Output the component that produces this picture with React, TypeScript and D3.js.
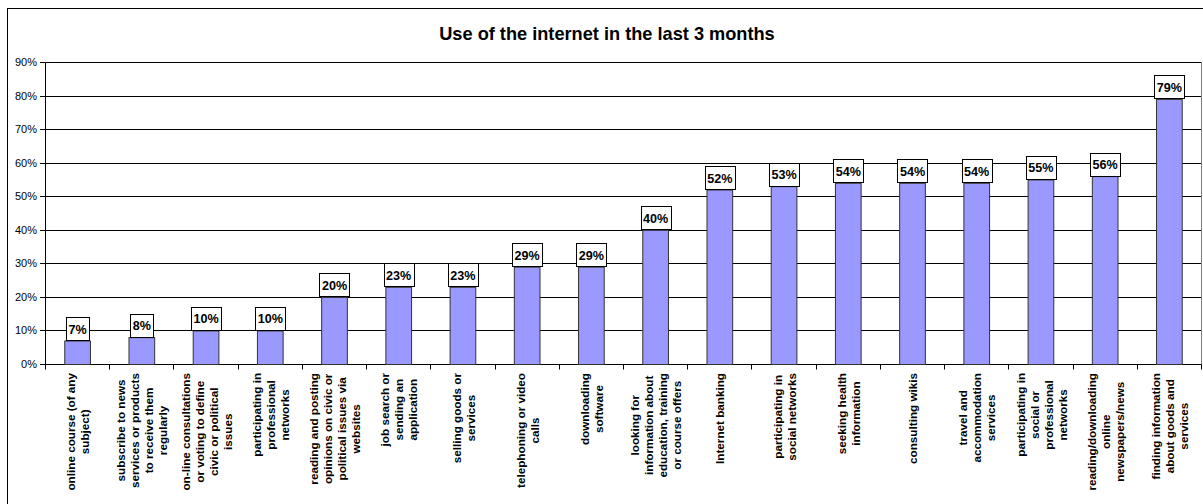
import React, { useMemo } from 'react';
import * as d3 from 'd3';

const title = 'Use of the internet in the last 3 months';

const categories: string[][] = [
  ['online course (of any', 'subject)'],
  ['subscribe to news', 'services or products', 'to receive them', 'regularly'],
  ['on-line consultations', 'or voting to define', 'civic or political', 'issues'],
  ['participating in', 'professional', 'networks'],
  ['reading and posting', 'opinions on civic or', 'political issues via', 'websites'],
  ['job search or', 'sending an', 'application'],
  ['selling goods or', 'services'],
  ['telephoning or video', 'calls'],
  ['downloading', 'software'],
  ['looking for', 'information about', 'education, training', 'or course offers'],
  ['Internet banking'],
  ['participating in', 'social networks'],
  ['seeking health', 'information'],
  ['consulting wikis'],
  ['travel and', 'accommodation', 'services'],
  ['participating in', 'social or', 'professional', 'networks'],
  ['reading/downloading', 'online', 'newspapers/news'],
  ['finding information', 'about goods and', 'services'],
];

const values: number[] = [7, 8, 10, 10, 20, 23, 23, 29, 29, 40, 52, 53, 54, 54, 54, 55, 56, 79];

const yTicks: number[] = [0, 10, 20, 30, 40, 50, 60, 70, 80, 90];

const FONT = '"Liberation Sans", Arial, sans-serif';

let ctx: CanvasRenderingContext2D | null = null;
function measure(text: string, font: string): number {
  if (!ctx) {
    const c = document.createElement('canvas');
    ctx = c.getContext('2d');
  }
  if (!ctx) return text.length * 6;
  ctx.font = font;
  return ctx.measureText(text).width;
}

export default function App() {
  const W = 1203;
  const H = 504;
  const left = 45.5;
  const right = 1201.5;
  const top = 62.5;
  const bottom = 364.5;

  const x = useMemo(
    () =>
      d3
        .scaleBand<number>()
        .domain(values.map((_, i) => i))
        .range([left, right])
        .paddingInner(0.6)
        .paddingOuter(0.3),
    []
  );
  const y = useMemo(() => d3.scaleLinear().domain([0, 90]).range([bottom, top]), []);
  const step = (right - left) / values.length;

  const labelSize = 11.7;
  const labelFont = `bold ${labelSize}px ${FONT}`;
  const valSize = 12.6;
  const valFont = `bold ${valSize}px ${FONT}`;

  return (
    <svg
      width={W}
      height={H}
      style={{ position: 'absolute', left: 0, top: 0, display: 'block', background: '#fff' }}
      fontFamily={FONT}
    >
      <rect x={0} y={0} width={W} height={H} fill="#fff" />
      {/* outer chart border */}
      <rect x={7.5} y={8.5} width={1204} height={504} fill="none" stroke="#000" strokeWidth={1} />
      <text x={607} y={40} textAnchor="middle" fontSize={18.2} fontWeight="bold" fill="#000">
        {title}
      </text>

      {/* gridlines */}
      {yTicks.map((t) => {
        const yy = Math.round(y(t) - 0.5) + 0.5;
        return (
          <g key={t}>
            <line x1={left} x2={right} y1={yy} y2={yy} stroke="#000" strokeWidth={1} />
            <line x1={40} x2={left} y1={yy} y2={yy} stroke="#000" strokeWidth={1} />
            <text x={37} y={yy} dy="0.35em" textAnchor="end" fontSize={11} fill="#000">
              {`${t}%`}
            </text>
          </g>
        );
      })}
      {/* plot right border */}
      <line x1={right} x2={right} y1={top} y2={bottom} stroke="#808080" strokeWidth={1} />
      {/* y axis */}
      <line x1={left} x2={left} y1={top} y2={bottom} stroke="#000" strokeWidth={1} />
      {/* x axis */}
      <line x1={left} x2={right} y1={bottom} y2={bottom} stroke="#000" strokeWidth={1} />
      {d3.range(values.length + 1).map((i) => {
        const xx = Math.round(left + i * step - 0.5) + 0.5;
        return <line key={i} x1={xx} x2={xx} y1={bottom} y2={bottom + 5} stroke="#000" strokeWidth={1} />;
      })}

      {/* bars */}
      {values.map((v, i) => {
        const bx = x(i)!;
        const bw = x.bandwidth();
        const by = y(v);
        return (
          <rect
            key={i}
            x={bx}
            y={by}
            width={bw}
            height={bottom - by}
            fill="#9999FF"
            stroke="#333333"
            strokeWidth={1}
          />
        );
      })}

      {/* data labels */}
      {values.map((v, i) => {
        const cx = x(i)! + x.bandwidth() / 2;
        const by = y(v);
        const txt = `${Math.round(v)}%`;
        const tw = measure(txt, valFont);
        const bw = tw + 5;
        const bh = 23;
        const boxBottom = by - 1;
        return (
          <g key={i}>
            <rect
              x={Math.round(cx - bw / 2) + 0.5}
              y={Math.round(boxBottom - bh) + 0.5}
              width={Math.round(bw)}
              height={bh}
              fill="#fff"
              stroke="#000"
              strokeWidth={1}
            />
            <text
              x={cx}
              y={boxBottom - bh / 2 + 0.5}
              dy="0.36em"
              textAnchor="middle"
              fontSize={valSize}
              fontWeight="bold"
              fill="#000"
            >
              {txt}
            </text>
          </g>
        );
      })}

      {/* category labels */}
      {categories.map((lines, i) => {
        const cx = x(i)! + x.bandwidth() / 2 + 0.5;
        const maxW = Math.max(...lines.map((l) => measure(l, labelFont)));
        const n = lines.length;
        return (
          <g key={i} transform={`translate(${cx},373) rotate(-90)`}>
            {lines.map((l, j) => (
              <text
                key={j}
                x={-maxW / 2}
                y={(j - (n - 1) / 2) * 14}
                dy="0.35em"
                textAnchor="middle"
                fontSize={labelSize}
                fontWeight="bold"
                fill="#000"
              >
                {l}
              </text>
            ))}
          </g>
        );
      })}
    </svg>
  );
}
